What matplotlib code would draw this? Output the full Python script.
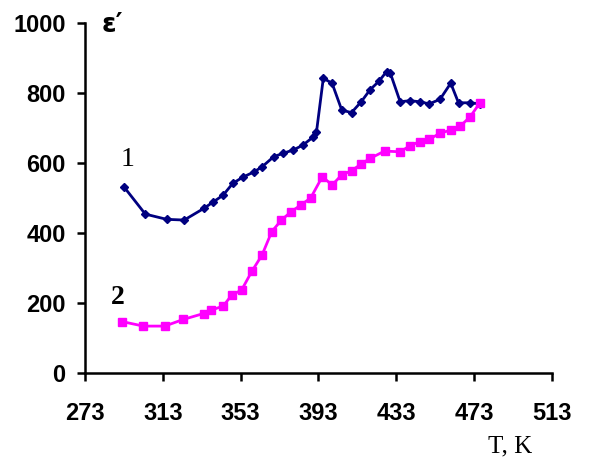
import numpy as np
import matplotlib
matplotlib.use("Agg")
import matplotlib.pyplot as plt

# curve 1 (navy)
T1 = [293, 304, 315, 324, 334, 339, 344, 349, 354, 360, 364, 370, 375, 380, 385, 390, 392,
      395.5, 400, 405, 410, 415, 419.5, 424, 428, 430, 435, 440, 445, 450, 455.5, 461, 465, 471, 476]
E1 = [532, 454, 439, 437, 470, 489, 508, 542, 559, 575, 589, 618, 628, 637, 651, 673, 689,
      842, 828, 751, 744, 775, 809, 833, 861, 856, 775, 778, 775, 769, 782, 828, 772, 772, 769]

# curve 2 (magenta)
T2 = [292, 303, 314, 323.5, 334, 338, 344, 348.5, 353.5, 358.7, 364, 369, 374, 379, 384, 389,
      395, 400, 405, 410, 415, 419.5, 427, 435, 440, 445, 450, 455.5, 461, 466, 471, 476]
E2 = [147, 134, 134, 153, 170, 180, 191, 223, 237, 290, 337, 404, 437, 461, 480, 500,
      561, 537, 566, 578, 597, 613, 634, 632, 649, 661, 668, 685, 694, 706, 732, 772]

xticks = [273, 313, 353, 393, 433, 473, 513]
yticks = [0, 200, 400, 600, 800, 1000]

fig = plt.figure(figsize=(5.89, 4.57), dpi=100)
ax = fig.add_axes([0.1443, 0.1838, 0.937 - 0.1443, 0.9497 - 0.1838])

ax.plot(T1, E1, color='#000080', lw=2, marker='D', ms=4, mec='#000080', mfc='#000080', clip_on=False)
ax.plot(T2, E2, color='#FF00FF', lw=2, marker='s', ms=6, mec='#FF00FF', mfc='#FF00FF', clip_on=False)

ax.set_xlim(273, 513)
ax.set_ylim(0, 1000)
ax.set_xticks(xticks)
ax.set_yticks(yticks)
for s in ['top', 'right']:
    ax.spines[s].set_visible(False)
for s in ['left', 'bottom']:
    ax.spines[s].set_linewidth(1.8)
ax.tick_params(direction='out', length=6, width=1.8, labelsize=17)
ax.tick_params(axis='x', pad=15)
ax.tick_params(axis='y', pad=8)
for lab in ax.get_xticklabels() + ax.get_yticklabels():
    lab.set_fontweight('bold')
    lab.set_fontfamily('Liberation Sans')

ax.text(295, 610, '1', fontsize=20, family='Liberation Serif', ha='center', va='center')
ax.text(290, 216, '2', fontsize=20, family='Liberation Serif', fontweight='bold', ha='center', va='center')
ax.text(287, 995, 'ε′', fontsize=19, family='DejaVu Sans', fontweight='bold', ha='center', va='center',
        clip_on=False)
ax.text(0.91, -0.21, 'T, K', fontsize=18, family='Liberation Serif', ha='center', va='center',
        transform=ax.transAxes)

fig.savefig('out.png', dpi=100)
